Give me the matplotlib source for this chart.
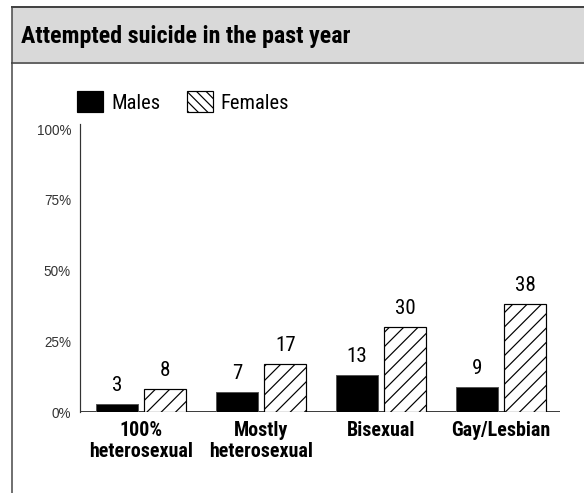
import numpy as np
import matplotlib
matplotlib.use("Agg")
import matplotlib.pyplot as plt
from matplotlib.patches import Rectangle, Patch
from matplotlib.lines import Line2D

# data
categories = ["100%\nheterosexual", "Mostly\nheterosexual", "Bisexual", "Gay/Lesbian"]
males = [3, 7, 13, 9]
females = [8, 17, 30, 38]
y_ticks = [0, 25, 50, 75, 100]
y_tick_labels = ["0%", "25%", "50%", "75%", "100%"]
title = "Attempted suicide in the past year"

DPI = 86
W, H = 584, 493


def pt(p):
    # pixels -> points
    return p * 72 / DPI


COND = ["Roboto Condensed", "DejaVu Sans"]
plt.rcParams["font.family"] = ["Liberation Sans", "DejaVu Sans"]
plt.rcParams["hatch.linewidth"] = 1.0
plt.rcParams["hatch.color"] = "black"

fig = plt.figure(figsize=(W / DPI, H / DPI), dpi=DPI)

# header band and frame
fig.add_artist(Rectangle((12 / W, 1 - 63 / H), 1, 56 / H, transform=fig.transFigure,
                         facecolor="#d9d9d9", edgecolor="none"))
fig.add_artist(Line2D([12 / W, 1], [1 - 7 / H, 1 - 7 / H], transform=fig.transFigure,
                      color="#444444", lw=pt(2)))
fig.add_artist(Line2D([12 / W, 1], [1 - 63 / H, 1 - 63 / H], transform=fig.transFigure,
                      color="#666666", lw=pt(2)))
fig.add_artist(Line2D([12 / W, 12 / W], [0, 1 - 7 / H], transform=fig.transFigure,
                      color="#444444", lw=pt(1.5)))
fig.text(21 / W, 1 - 37 / H, title, family=COND, weight="bold",
         fontsize=pt(24), va="center", ha="left", color="black")

ax = fig.add_axes([80 / W, 1 - 412 / H, 480 / W, 288 / H])

x = np.arange(len(categories))
bw = 0.35
off = 0.2
ax.axhline(0, color="black", lw=pt(2.5), zorder=2)
ax.bar(x - off, males, bw, color="black", edgecolor="#555555", lw=pt(1), zorder=3)
ax.bar(x + off, females, bw, color="white", edgecolor="black", lw=pt(1.2),
       hatch="//", zorder=3)

for xi, v in zip(x - off, males):
    ax.annotate(str(v), (xi, v), xytext=(0, pt(9)), textcoords="offset points",
                ha="center", va="bottom", family=COND, fontsize=pt(21))
for xi, v in zip(x + off, females):
    ax.annotate(str(v), (xi, v), xytext=(0, pt(9)), textcoords="offset points",
                ha="center", va="bottom", family=COND, fontsize=pt(21))

ax.set_xlim(-0.51, 3.49)
ax.set_ylim(0, 101.8)
ax.set_yticks(y_ticks)
ax.set_yticklabels(y_tick_labels, color="#333333", fontsize=pt(13.5))
ax.set_xticks(x)
ax.set_xticklabels(categories, family=COND, weight="bold", fontsize=pt(20),
                   linespacing=1.1, va="top")
ax.tick_params(axis="both", length=0)
ax.tick_params(axis="y", pad=pt(9))
ax.tick_params(axis="x", pad=pt(9))
for s in ["top", "right", "bottom"]:
    ax.spines[s].set_visible(False)
ax.spines["left"].set_color("#333333")
ax.spines["left"].set_linewidth(pt(1.2))

handles = [Patch(facecolor="black", edgecolor="black"),
           Patch(facecolor="white", edgecolor="black", hatch="\\\\\\")]
leg = fig.legend(handles, ["Males", "Females"], loc="center left",
                 bbox_to_anchor=(59 / W, 1 - 102 / H), ncol=2, frameon=False,
                 handlelength=1.25, handleheight=1.15, handletextpad=0.4,
                 columnspacing=1.3, prop={"family": COND, "size": pt(20.5)})

fig.savefig("out.png", dpi=DPI)
